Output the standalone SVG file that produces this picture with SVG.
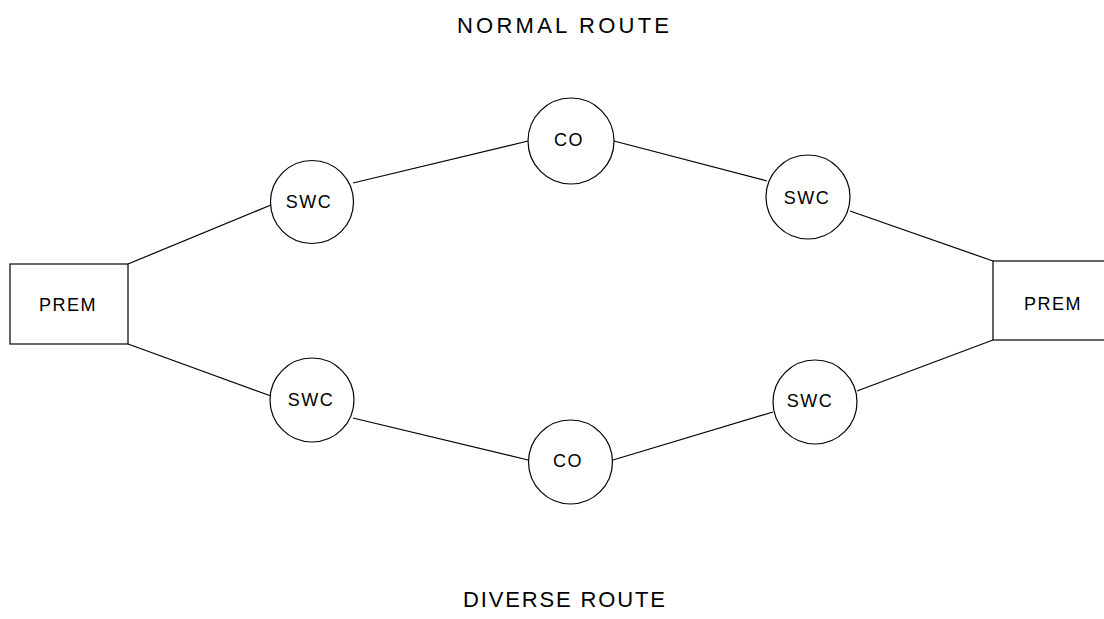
<svg xmlns="http://www.w3.org/2000/svg" width="1104" height="619" viewBox="0 0 1104 619">
<style>
.n{fill:#fff;stroke:#000;stroke-width:1.2}
.c line{stroke:#000;stroke-width:1.2}
.l{font-family:"Liberation Sans",Arial,sans-serif;font-size:18px;letter-spacing:1.5px;fill:#000;text-anchor:middle}
.t{font-family:"Liberation Sans",Arial,sans-serif;font-size:22px;fill:#000}
</style>
<rect width="1104" height="619" fill="#fff"/>
<g id="connectors" class="c">
<line x1="128" y1="264" x2="271" y2="205"/>
<line x1="353" y1="183" x2="528" y2="141"/>
<line x1="614" y1="141" x2="767" y2="181"/>
<line x1="850" y1="211" x2="993" y2="261"/>
<line x1="128" y1="344" x2="271" y2="396"/>
<line x1="353" y1="418" x2="528" y2="460"/>
<line x1="613" y1="460" x2="773" y2="412"/>
<line x1="857" y1="391" x2="993" y2="340"/>
</g>
<g id="prem-left"><rect class="n" x="10" y="264" width="118" height="80"/><text class="l" x="68" y="311">PREM</text></g>
<g id="prem-right"><rect class="n" x="993" y="261" width="115" height="79"/><text class="l" x="1053" y="310">PREM</text></g>
<g id="swc-top-left"><circle class="n" cx="312" cy="202" r="41.5"/><text class="l" x="309" y="208">SWC</text></g>
<g id="co-top"><circle class="n" cx="571" cy="141" r="43"/><text class="l" x="569" y="146">CO</text></g>
<g id="swc-top-right"><circle class="n" cx="808" cy="197" r="42"/><text class="l" x="807" y="204">SWC</text></g>
<g id="swc-bottom-left"><circle class="n" cx="312" cy="400" r="42"/><text class="l" x="311" y="406">SWC</text></g>
<g id="co-bottom"><circle class="n" cx="570.5" cy="462" r="42"/><text class="l" x="568" y="467">CO</text></g>
<g id="swc-bottom-right"><circle class="n" cx="815" cy="402" r="42"/><text class="l" x="810" y="407">SWC</text></g>
<text class="t" x="457" y="33" textLength="212" lengthAdjust="spacing">NORMAL ROUTE</text>
<text class="t" x="463" y="607" textLength="202" lengthAdjust="spacing">DIVERSE ROUTE</text>
</svg>
